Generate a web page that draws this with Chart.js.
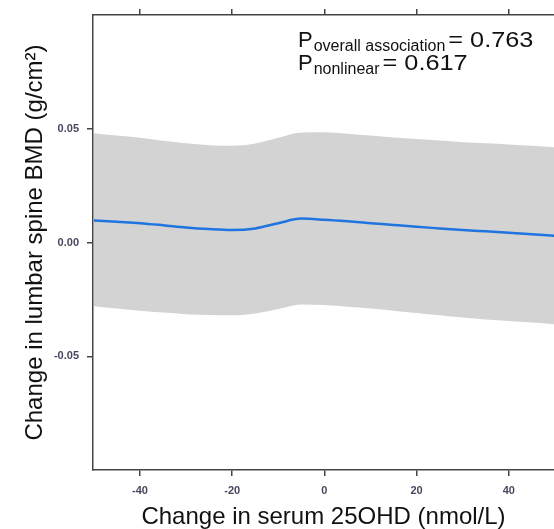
<!DOCTYPE html>
<html>
<head>
<meta charset="utf-8">
<script src="https://cdn.jsdelivr.net/npm/chart.js@4.4.1/dist/chart.umd.min.js"></script>
<style>
  html, body { margin: 0; padding: 0; background: #fff; }
  #wrap { width: 554px; height: 529px; }
</style>
</head>
<body>
<div id="wrap"><canvas id="bmdChart" width="554" height="529"></canvas></div>
<script>
// Curva de cambio en DMO lumbar vs cambio en 25OHD
const serumChange = [-50, -45, -40, -35, -30, -25, -20, -15, -10, -5, 0, 5, 10, 15, 20, 25, 30, 35, 40, 45, 50];
const bmdFit =      [0.0097, 0.0091, 0.0085, 0.0076, 0.0066, 0.0059, 0.0055, 0.0062, 0.0085, 0.0105, 0.0100, 0.0093, 0.0085, 0.0077, 0.0069, 0.0062, 0.0055, 0.0049, 0.0043, 0.0036, 0.0029];
const bmdUpper =    [0.0480, 0.0470, 0.0460, 0.0447, 0.0436, 0.0428, 0.0425, 0.0435, 0.0460, 0.0483, 0.0485, 0.0478, 0.0470, 0.0462, 0.0455, 0.0448, 0.0441, 0.0436, 0.0431, 0.0425, 0.0418];
const bmdLower =    [-0.0280, -0.0290, -0.0300, -0.0308, -0.0315, -0.0319, -0.0320, -0.0312, -0.0292, -0.0272, -0.0275, -0.0282, -0.0290, -0.0300, -0.0310, -0.0320, -0.0330, -0.0338, -0.0345, -0.0352, -0.0360];
const xTicks = [-40, -20, 0, 20, 40];
const yTicks = [-0.05, 0, 0.05];
const pOverall = '0.763';
const pNonlinear = '0.617';

const FONT = "'Liberation Sans', Arial, sans-serif";
const toPts = (ys) => serumChange.map((x, i) => ({ x: x, y: ys[i] }));

// texto de valores P con subindices
const pValuesPlugin = {
    id: 'pValues',
    afterDraw(chart) {
        const ctx = chart.ctx;
        ctx.save();
        ctx.fillStyle = '#111';
        ctx.textBaseline = 'alphabetic';
        const rows = [
            { sub: 'overall association', val: pOverall, y: 47 },
            { sub: 'nonlinear', val: pNonlinear, y: 70 }
        ];
        rows.forEach(r => {
            let x = 298;
            ctx.font = '22px ' + FONT;
            ctx.fillText('P', x, r.y);
            x += ctx.measureText('P').width + 1;
            ctx.font = '16px ' + FONT;
            ctx.fillText(r.sub, x, r.y + 4);
            x += ctx.measureText(r.sub).width + 3;
            ctx.font = '22px ' + FONT;
            // el texto original se ve algo ensanchado
            ctx.save();
            ctx.translate(x, r.y);
            ctx.scale(1.15, 1);
            ctx.fillText('= ' + r.val, 0, 0);
            ctx.restore();
        });
        ctx.restore();
    }
};

const axisBorder = { display: true, color: '#444', width: 1.5 };
const axisGrid = { drawOnChartArea: false, drawTicks: true, tickLength: 6, color: '#444', lineWidth: 1.5 };

new Chart(document.getElementById('bmdChart'), {
    type: 'line',
    data: {
        datasets: [
            {
                label: 'Ajuste',
                data: toPts(bmdFit),
                borderColor: '#1f74e0',
                borderWidth: 2.5,
                pointRadius: 0,
                cubicInterpolationMode: 'monotone',
                fill: false
            },
            {
                label: 'IC superior',
                data: toPts(bmdUpper),
                borderWidth: 0,
                borderColor: 'rgba(0,0,0,0)',
                backgroundColor: '#d3d3d3',
                pointRadius: 0,
                cubicInterpolationMode: 'monotone',
                fill: '+1'
            },
            {
                label: 'IC inferior',
                data: toPts(bmdLower),
                borderWidth: 0,
                borderColor: 'rgba(0,0,0,0)',
                pointRadius: 0,
                cubicInterpolationMode: 'monotone',
                fill: false
            }
        ]
    },
    options: {
        responsive: false,
        animation: false,
        layout: { padding: { left: 0, right: 0, top: 0, bottom: 0 } },
        plugins: {
            legend: { display: false },
            tooltip: { enabled: false }
        },
        scales: {
            x: {
                type: 'linear',
                position: 'bottom',
                min: -50.2,
                max: 49.8,
                afterBuildTicks: (s) => { s.ticks = xTicks.map(v => ({ value: v })); },
                afterFit: (s) => { s.height = 59; },
                border: axisBorder,
                grid: axisGrid,
                ticks: {
                    padding: 8,
                    color: '#47475f',
                    font: { family: FONT, size: 11, weight: 'bold' },
                    maxRotation: 0
                },
                title: {
                    display: true,
                    text: 'Change in serum 25OHD (nmol/L)',
                    color: '#111',
                    font: { family: FONT, size: 24, lineHeight: 1.0 },
                    padding: { top: 0, bottom: 0 }
                }
            },
            xTop: {
                type: 'linear',
                position: 'top',
                min: -50.2,
                max: 49.8,
                afterBuildTicks: (s) => { s.ticks = xTicks.map(v => ({ value: v })); },
                afterFit: (s) => { s.height = 15; },
                border: axisBorder,
                grid: axisGrid,
                ticks: { display: false }
            },
            y: {
                type: 'linear',
                position: 'left',
                min: -0.1,
                max: 0.1,
                afterBuildTicks: (s) => { s.ticks = yTicks.map(v => ({ value: v })); },
                afterFit: (s) => { s.width = 93; },
                border: axisBorder,
                grid: axisGrid,
                ticks: {
                    padding: 8,
                    color: '#47475f',
                    font: { family: FONT, size: 11, weight: 'bold' },
                    callback: (v) => v.toFixed(2)
                },
                title: {
                    display: true,
                    text: 'Change in lumbar spine BMD (g/cm\u00B2)',
                    color: '#111',
                    font: { family: FONT, size: 24 },
                    padding: { top: 21, bottom: 0 }
                }
            }
        }
    },
    plugins: [pValuesPlugin]
});
</script>
</body>
</html>
